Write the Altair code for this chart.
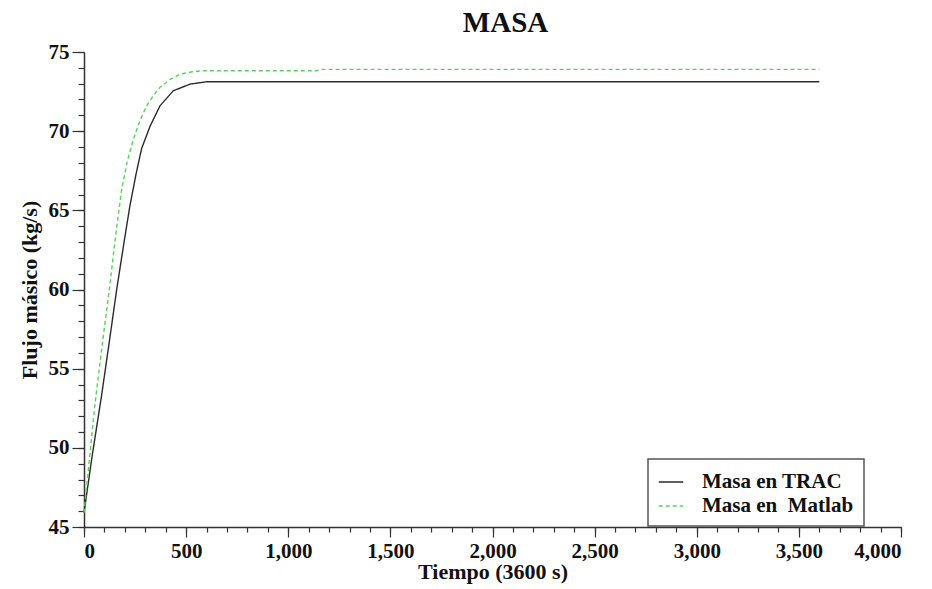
import altair as alt
import pandas as pd

# ---- data ----
trac_t = [0, 40, 86, 125, 160, 195, 225, 255, 282, 323, 372, 437, 519, 600, 3600]
trac_v = [45.9, 49.5, 53.3, 56.8, 60.0, 62.9, 65.3, 67.3, 68.9, 70.3, 71.6, 72.55, 72.97, 73.12, 73.12]
mat_t = [0, 54, 90, 124, 155, 184, 212, 242, 275, 307, 340, 372, 420, 470, 530, 584, 1140, 1160, 3600]
mat_v = [45.9, 52.8, 56.6, 60.0, 63.4, 66.3, 68.1, 69.5, 70.7, 71.6, 72.25, 72.77, 73.25, 73.6, 73.75, 73.82, 73.82, 73.9, 73.9]
series_names = ["Masa en TRAC", "Masa en\u00a0 Matlab"]
x_major = [0, 500, 1000, 1500, 2000, 2500, 3000, 3500, 4000]
y_major = [45, 50, 55, 60, 65, 70, 75]
x_minor = list(range(0, 4001, 100))
y_minor = list(range(45, 76, 1))

rows = []
for t, v in zip(trac_t, trac_v):
    rows.append({"t": t, "v": v, "serie": series_names[0]})
for t, v in zip(mat_t, mat_v):
    rows.append({"t": t, "v": v, "serie": series_names[1]})
df = pd.DataFrame(rows)

FONT = "Liberation Serif"
TXT = "#111111"
lab = dict(labelFont=FONT, labelFontSize=21, labelFontWeight="bold", labelColor=TXT,
           titleFont=FONT, titleFontSize=22, titleFontWeight="bold", titleColor=TXT,
           domainColor="#333333", domainWidth=1.5, tickColor="#333333", tickWidth=1.2, grid=False)

xscale = alt.Scale(domain=[0, 4000], nice=False)
yscale = alt.Scale(domain=[45, 75], nice=False, zero=False)

color = alt.Color("serie:N", scale=alt.Scale(domain=series_names, range=["#2b2b2b", "#55d455"]),
                  legend=alt.Legend(title=None))
dash = alt.StrokeDash("serie:N", scale=alt.Scale(domain=series_names, range=[[1, 0], [4, 3]]),
                      legend=alt.Legend(title=None))

lines = alt.Chart(df).mark_line(strokeWidth=1.4).encode(
    x=alt.X("t:Q", scale=xscale,
            axis=alt.Axis(orient="bottom", values=x_major, format=",.0f", title="Tiempo (3600 s)",
                          tickSize=10, labelPadding=3, titlePadding=0, **lab)),
    y=alt.Y("v:Q", scale=yscale,
            axis=alt.Axis(orient="left", values=y_major, format=".0f", title="Flujo másico (kg/s)",
                          tickSize=12, labelPadding=3, titlePadding=7, **lab)),
    color=color,
    strokeDash=dash,
    order="t:Q",
)

minor = alt.Chart(df).mark_point(opacity=0).encode(
    x=alt.X("t:Q", scale=xscale,
            axis=alt.Axis(orient="bottom", values=x_minor, labels=False, domain=False,
                          title=None, tickSize=5, tickColor="#333333", tickWidth=1.2, grid=False)),
    y=alt.Y("v:Q", scale=yscale,
            axis=alt.Axis(orient="left", values=y_minor, labels=False, domain=False,
                          title=None, tickSize=6, tickColor="#333333", tickWidth=1.2, grid=False)),
)

chart = alt.layer(lines, minor).resolve_axis(x="independent", y="independent").properties(
    width=817,
    height=475,
    autosize=alt.AutoSizeParams(type="none"),
    padding={"left": 76, "top": 44, "right": 10, "bottom": 62},
    title=alt.Title("MASA", font=FONT, fontSize=29, fontWeight="bold", color=TXT,
                    anchor="middle", dx=13, offset=3),
).configure_view(stroke=None).configure_legend(
    orient="none", legendX=564, legendY=407,
    strokeColor="#555555", strokeWidth=1.5, fillColor="white", padding=10,
    labelFont=FONT, labelFontSize=21, labelFontWeight="bold", labelColor=TXT,
    symbolType="stroke", symbolSize=600, symbolStrokeWidth=1.5, labelOffset=18, rowPadding=1,
)

chart.save("out.html", embed_options={"renderer": "svg", "actions": False})
